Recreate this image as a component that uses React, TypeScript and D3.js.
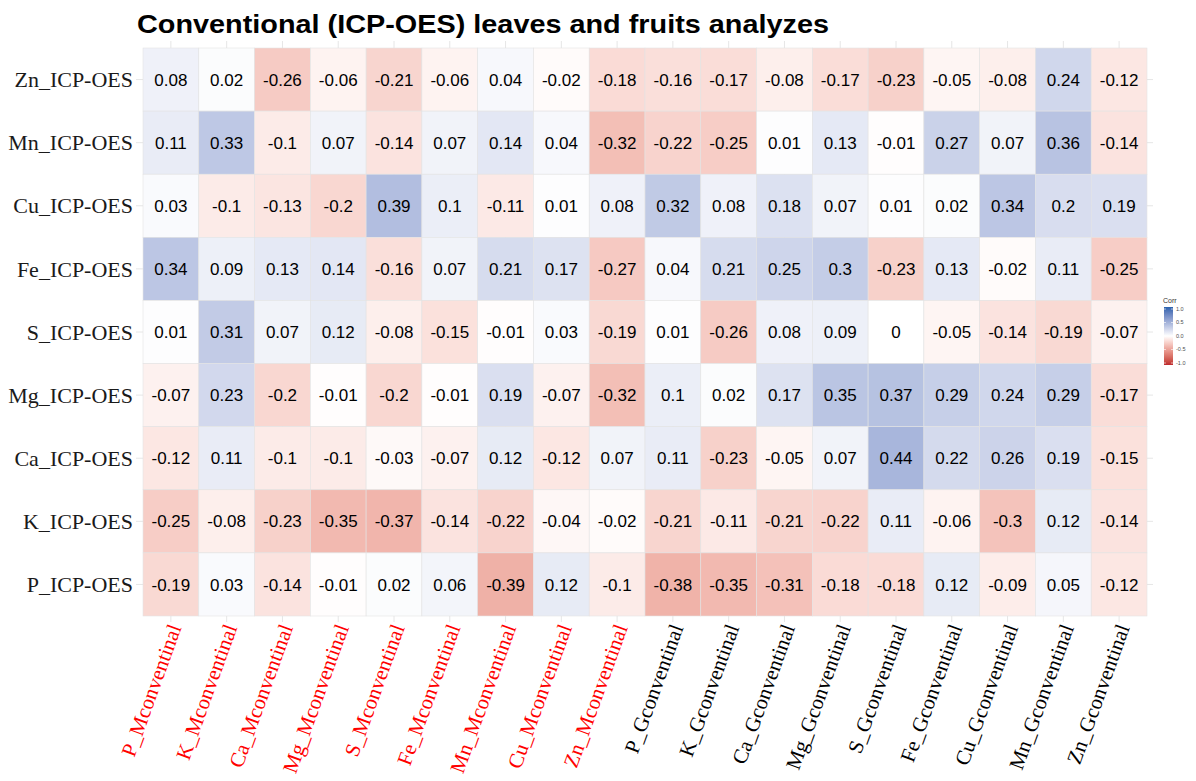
import React from "react";
import * as d3 from "d3";

const rowLabels = ["Zn_ICP-OES", "Mn_ICP-OES", "Cu_ICP-OES", "Fe_ICP-OES", "S_ICP-OES", "Mg_ICP-OES", "Ca_ICP-OES", "K_ICP-OES", "P_ICP-OES"];
const colLabels = [
  "P_Mconventinal", "K_Mconventinal", "Ca_Mconventinal", "Mg_Mconventinal", "S_Mconventinal", "Fe_Mconventinal", "Mn_Mconventinal", "Cu_Mconventinal", "Zn_Mconventinal",
  "P_Gconventinal", "K_Gconventinal", "Ca_Gconventinal", "Mg_Gconventinal", "S_Gconventinal", "Fe_Gconventinal", "Cu_Gconventinal", "Mn_Gconventinal", "Zn_Gconventinal",
];
const rowZn = [0.08, 0.02, -0.26, -0.06, -0.21, -0.06, 0.04, -0.02, -0.18, -0.16, -0.17, -0.08, -0.17, -0.23, -0.05, -0.08, 0.24, -0.12];
const rowMn = [0.11, 0.33, -0.1, 0.07, -0.14, 0.07, 0.14, 0.04, -0.32, -0.22, -0.25, 0.01, 0.13, -0.01, 0.27, 0.07, 0.36, -0.14];
const rowCu = [0.03, -0.1, -0.13, -0.2, 0.39, 0.1, -0.11, 0.01, 0.08, 0.32, 0.08, 0.18, 0.07, 0.01, 0.02, 0.34, 0.2, 0.19];
const rowFe = [0.34, 0.09, 0.13, 0.14, -0.16, 0.07, 0.21, 0.17, -0.27, 0.04, 0.21, 0.25, 0.3, -0.23, 0.13, -0.02, 0.11, -0.25];
const rowS = [0.01, 0.31, 0.07, 0.12, -0.08, -0.15, -0.01, 0.03, -0.19, 0.01, -0.26, 0.08, 0.09, 0, -0.05, -0.14, -0.19, -0.07];
const rowMg = [-0.07, 0.23, -0.2, -0.01, -0.2, -0.01, 0.19, -0.07, -0.32, 0.1, 0.02, 0.17, 0.35, 0.37, 0.29, 0.24, 0.29, -0.17];
const rowCa = [-0.12, 0.11, -0.1, -0.1, -0.03, -0.07, 0.12, -0.12, 0.07, 0.11, -0.23, -0.05, 0.07, 0.44, 0.22, 0.26, 0.19, -0.15];
const rowK = [-0.25, -0.08, -0.23, -0.35, -0.37, -0.14, -0.22, -0.04, -0.02, -0.21, -0.11, -0.21, -0.22, 0.11, -0.06, -0.3, 0.12, -0.14];
const rowP = [-0.19, 0.03, -0.14, -0.01, 0.02, 0.06, -0.39, 0.12, -0.1, -0.38, -0.35, -0.31, -0.18, -0.18, 0.12, -0.09, 0.05, -0.12];
const matrix = [rowZn, rowMn, rowCu, rowFe, rowS, rowMg, rowCa, rowK, rowP];
const legendTicks = [1.0, 0.5, 0.0, -0.5, -1.0];
const title = "Conventional (ICP-OES) leaves and fruits analyzes";

const W = 1196, H = 781;
const L = 143, R = 1147, T = 48, B = 616;

export default function App() {
  const x = d3.scaleBand<string>().domain(colLabels).range([L, R]).padding(0);
  const y = d3.scaleBand<string>().domain(rowLabels).range([T, B]).padding(0);
  const color = d3
    .scaleLinear<string>()
    .domain([-1, 0, 1])
    .range(["#BE2A2E", "#FFFFFF", "#2A62AE"])
    .interpolate(d3.interpolateLab);
  const fmt = (v: number) => String(v);

  const legX = 1164, legW = 9, legTop = 307, legBot = 365;
  const ly = d3.scaleLinear().domain([1, -1]).range([legTop + 2, legBot - 2]);
  const stops = d3.range(0, 1.0001, 0.05);

  return (
    <svg width={W} height={H} style={{ display: "block", position: "absolute", left: 0, top: 0, background: "#fff" }}>
      <defs>
        <linearGradient id="legGrad" x1="0" y1="0" x2="0" y2="1">
          {stops.map((s) => (
            <stop key={s} offset={s} stopColor={color(1 - 2 * s)} />
          ))}
        </linearGradient>
      </defs>
      <rect x={0} y={0} width={W} height={H} fill="#fff" />
      <text x={137} y={33} fontFamily="Liberation Sans, Arial, sans-serif" fontWeight="bold" fontSize={26} textLength={692} lengthAdjust="spacingAndGlyphs" fill="#000">
        {title}
      </text>
      {/* grid lines */}
      {colLabels.map((c) => (
        <line key={"gx" + c} x1={x(c)! + x.bandwidth() / 2} x2={x(c)! + x.bandwidth() / 2} y1={41} y2={622} stroke="#e6e6e6" strokeWidth={1} />
      ))}
      {rowLabels.map((r) => (
        <line key={"gy" + r} x1={136} x2={1153} y1={y(r)! + y.bandwidth() / 2} y2={y(r)! + y.bandwidth() / 2} stroke="#e6e6e6" strokeWidth={1} />
      ))}
      {/* tiles */}
      {rowLabels.map((r, i) =>
        colLabels.map((c, j) => (
          <rect key={r + c} x={x(c)!} y={y(r)!} width={x.bandwidth()} height={y.bandwidth()} fill={color(matrix[i][j])} stroke="#e3e3e3" strokeWidth={0.6} />
        ))
      )}
      {rowLabels.map((r, i) =>
        colLabels.map((c, j) => (
          <text key={"t" + r + c} x={x(c)! + x.bandwidth() / 2} y={y(r)! + y.bandwidth() / 2} dy="0.36em" textAnchor="middle" fontFamily="Liberation Sans, Arial, sans-serif" fontSize={17} fill="#000">
            {fmt(matrix[i][j])}
          </text>
        ))
      )}
      {/* y labels */}
      {rowLabels.map((r) => (
        <text key={"yl" + r} x={133} y={y(r)! + y.bandwidth() / 2} dy="0.35em" textAnchor="end" fontFamily="Liberation Serif, Times New Roman, serif" fontSize={22} fill="#1a1a1a">
          {r}
        </text>
      ))}
      {/* x labels */}
      {colLabels.map((c, j) => {
        const cx = x(c)! + x.bandwidth() / 2;
        return (
          <text key={"xl" + c} transform={`translate(${cx + 4},${625}) rotate(-70)`} dy="0.35em" textAnchor="end" fontFamily="Liberation Serif, Times New Roman, serif" fontSize={21} fill={j < 9 ? "#FF0000" : "#000"}>
            {c}
          </text>
        );
      })}
      {/* legend */}
      <text x={legX - 1} y={legTop - 4} fontFamily="Liberation Sans, Arial, sans-serif" fontSize={7} fill="#333">Corr</text>
      <rect x={legX} y={legTop} width={legW} height={legBot - legTop} fill="url(#legGrad)" />
      {legendTicks.map((t) => (
        <g key={"lt" + t}>
          <line x1={legX} x2={legX + 2} y1={ly(t)} y2={ly(t)} stroke="#fff" strokeWidth={0.6} />
          <line x1={legX + legW - 2} x2={legX + legW} y1={ly(t)} y2={ly(t)} stroke="#fff" strokeWidth={0.6} />
          <text x={legX + legW + 3} y={ly(t)} dy="0.35em" fontFamily="Liberation Sans, Arial, sans-serif" fontSize={5.5} fill="#4d4d4d">
            {t.toFixed(1)}
          </text>
        </g>
      ))}
    </svg>
  );
}
